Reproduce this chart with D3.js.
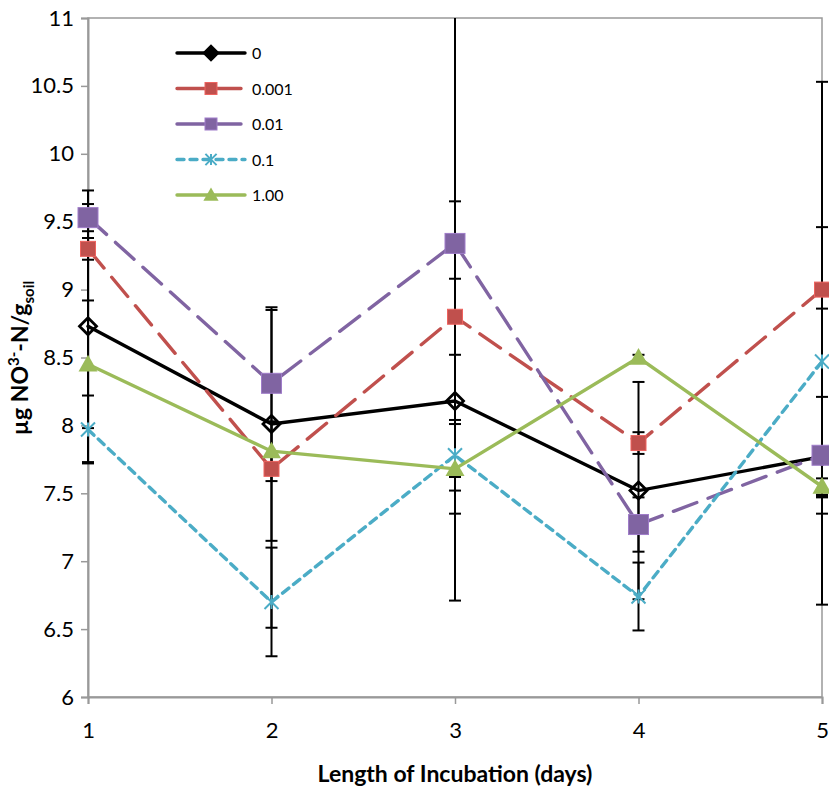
<!DOCTYPE html>
<html>
<head>
<meta charset="utf-8">
<script src="https://cdn.jsdelivr.net/npm/d3@7"></script>
<style>
  body { margin: 0; background: #fff; }
  text { font-family: Lato, "Open Sans", sans-serif; }
</style>
</head>
<body>
<div id="chart"></div>
<script>
var width = 829;
var height = 788;

// days on the x axis
var days = [1, 2, 3, 4, 5];
var yTicks = [6, 6.5, 7, 7.5, 8, 8.5, 9, 9.5, 10, 10.5, 11];

// series names (legend)
var seriesNames = ["0", "0.001", "0.01", "0.1", "1.00"];

// mean values
var vals0    = [8.73, 8.01, 8.18, 7.52, 7.77];
var vals001  = [9.30, 7.68, 8.80, 7.87, 9.00];
var vals01   = [9.53, 8.31, 9.34, 7.27, 7.78];
var vals1    = [7.97, 6.70, 7.78, 6.74, 8.47];
var vals100  = [8.45, 7.81, 7.68, 8.50, 7.55];

// error bar half-widths
var err0   = [1.00, 0.86, 1.47, 0.80, 1.09];
var err001 = [0.08, 1.17, 0.28, 0.08, 1.53];
var err01  = [0.10, 0.05, 1.72, 0.20, 0.43];
var err1   = [0.25, 0.40, 0.26, 0.25, 0.99];
var err100 = [0.47, 0.22, 0.33, 0.02, 0.06];

var margin = {left: 88, right: 7, top: 18, bottom: 91};

var x = d3.scaleLinear().domain([1, 5]).range([margin.left, width - margin.right]);
var y = d3.scaleLinear().domain([6, 11]).range([height - margin.bottom, margin.top]);

var series = [
    {name: seriesNames[0], vals: vals0,   err: err0,   color: "#000000", dash: null,    marker: "diamond"},
    {name: seriesNames[1], vals: vals001, err: err001, color: "#C0504D", dash: "25,12", marker: "square"},
    {name: seriesNames[2], vals: vals01,  err: err01,  color: "#8064A2", dash: "25,12", marker: "bigsquare"},
    {name: seriesNames[3], vals: vals1,   err: err1,   color: "#4BACC6", dash: "8,6",   marker: "star"},
    {name: seriesNames[4], vals: vals100, err: err100, color: "#9BBB59", dash: null,    marker: "triangle"}
];

var svg = d3.select("#chart")
    .append("svg")
    .attr("width", width)
    .attr("height", height);

svg.append("defs").append("clipPath")
    .attr("id", "plotclip")
    .append("rect")
    .attr("x", margin.left - 20)
    .attr("y", margin.top)
    .attr("width", width - margin.left - margin.right + 40)
    .attr("height", height - margin.top - margin.bottom);

// plot border
svg.append("rect")
    .attr("x", x(1))
    .attr("y", y(11))
    .attr("width", x(5) - x(1))
    .attr("height", y(6) - y(11))
    .attr("fill", "none")
    .attr("stroke", "#999")
    .attr("stroke-width", 1.5);

// y axis
var yAxis = d3.axisLeft(y).tickValues(yTicks).tickSize(7).tickPadding(7)
    .tickFormat(function(d){ return d; });
var gy = svg.append("g").attr("transform", "translate(" + x(1) + ",0)").call(yAxis);
gy.select(".domain").attr("stroke", "#999").attr("stroke-width", 2);
gy.selectAll(".tick line").attr("stroke", "#999").attr("stroke-width", 1.5);
gy.selectAll(".tick text").attr("font-size", "22px").attr("fill", "#000")
    .attr("font-family", "Lato, sans-serif");

// x axis
var xAxis = d3.axisBottom(x).tickValues(days).tickSize(7).tickPadding(18)
    .tickFormat(function(d){ return d; });
var gx = svg.append("g").attr("transform", "translate(0," + y(6) + ")").call(xAxis);
gx.select(".domain").attr("stroke", "#999").attr("stroke-width", 2);
gx.selectAll(".tick line").attr("stroke", "#999").attr("stroke-width", 1.5);
gx.selectAll(".tick text").attr("font-size", "22px").attr("fill", "#000")
    .attr("font-family", "Lato, sans-serif");

// axis titles
svg.append("text")
    .attr("x", (x(1) + x(5)) / 2)
    .attr("y", 782)
    .attr("text-anchor", "middle")
    .attr("font-size", "23px")
    .attr("font-weight", "bold")
    .text("Length of Incubation (days)");

var yt = svg.append("text")
    .attr("transform", "translate(28," + 358 + ") rotate(-90)")
    .attr("text-anchor", "middle")
    .attr("font-size", "23px")
    .attr("font-weight", "bold");
yt.append("tspan").text("µg NO");
yt.append("tspan").attr("font-size", "15px").attr("dy", -9).text("3-");
yt.append("tspan").attr("dy", 9).text("-N/g");
yt.append("tspan").attr("font-size", "15px").attr("dy", 6).text("soil");

var plot = svg.append("g").attr("clip-path", "url(#plotclip)");

// error bars first
series.forEach(function(s){
    var eb = plot.append("g").attr("class", "err");
    days.forEach(function(d, i){
        var hi = s.vals[i] + s.err[i], lo = s.vals[i] - s.err[i];
        eb.append("line")
            .attr("x1", x(d)).attr("x2", x(d))
            .attr("y1", y(hi)).attr("y2", y(lo))
            .attr("stroke", "#000").attr("stroke-width", 2);
        [hi, lo].forEach(function(v){
            eb.append("line")
                .attr("x1", x(d) - 6).attr("x2", x(d) + 6)
                .attr("y1", y(v)).attr("y2", y(v))
                .attr("stroke", "#000").attr("stroke-width", 2);
        });
    });
});

var line = d3.line()
    .x(function(d, i){ return x(days[i]); })
    .y(function(d){ return y(d); });

// series lines
series.forEach(function(s){
    plot.append("path")
        .datum(s.vals)
        .attr("d", line)
        .attr("fill", "none")
        .attr("stroke", s.color)
        .attr("stroke-width", 3.4)
        .attr("stroke-linecap", "round")
        .attr("stroke-dasharray", s.dash);
});

// draw one marker at (cx, cy)
function drawMarker(g, type, color, cx, cy, k, legend){
    if (type === "diamond") {
        var r = 8.5 * k;
        g.append("path")
            .attr("d", "M" + cx + "," + (cy - r) + "L" + (cx + r) + "," + cy + "L" + cx + "," + (cy + r) + "L" + (cx - r) + "," + cy + "Z")
            .attr("fill", legend ? "#000" : "none")
            .attr("stroke", "#000").attr("stroke-width", 2.8);
    } else if (type === "square" || type === "bigsquare") {
        var h = (type === "square" ? 7.5 : 10) * k;
        g.append("rect")
            .attr("x", cx - h).attr("y", cy - h)
            .attr("width", 2 * h).attr("height", 2 * h)
            .attr("fill", color)
            .attr("stroke", d3.color(color).brighter(0.6)).attr("stroke-width", 1);
    } else if (type === "star") {
        var a = 7 * k;
        g.append("path")
            .attr("d", "M" + (cx - a) + "," + (cy - a) + "L" + (cx + a) + "," + (cy + a) +
                "M" + (cx - a) + "," + (cy + a) + "L" + (cx + a) + "," + (cy - a) +
                "M" + cx + "," + (cy - a) + "L" + cx + "," + (cy + a))
            .attr("stroke", color).attr("stroke-width", 2).attr("fill", "none");
    } else if (type === "triangle") {
        var t = 9.5 * k;
        g.append("path")
            .attr("d", "M" + cx + "," + (cy - t) + "L" + (cx + t) + "," + (cy + t * 0.75) + "L" + (cx - t) + "," + (cy + t * 0.75) + "Z")
            .attr("fill", color);
    }
}

// markers on top
series.forEach(function(s){
    var mg = svg.append("g");
    days.forEach(function(d, i){
        drawMarker(mg, s.marker, s.color, x(d), y(s.vals[i]), 1, false);
    });
});

// legend
var legend = svg.append("g").attr("id", "legend");
series.forEach(function(s, i){
    var ly = 53 + i * 35.5;
    legend.append("line")
        .attr("x1", 177).attr("x2", 245)
        .attr("y1", ly).attr("y2", ly)
        .attr("stroke", s.color)
        .attr("stroke-width", 3.4)
        .attr("stroke-linecap", "round")
        .attr("stroke-dasharray", s.dash ? (s.dash === "8,6" ? "7,6" : "28,8") : null);
    drawMarker(legend, s.marker === "bigsquare" ? "square" : s.marker, s.color, 211, ly, 0.8, true);
    legend.append("text")
        .attr("x", 252)
        .attr("y", ly + 6)
        .attr("font-size", "16px")
        .text(s.name);
});
</script>
</body>
</html>
